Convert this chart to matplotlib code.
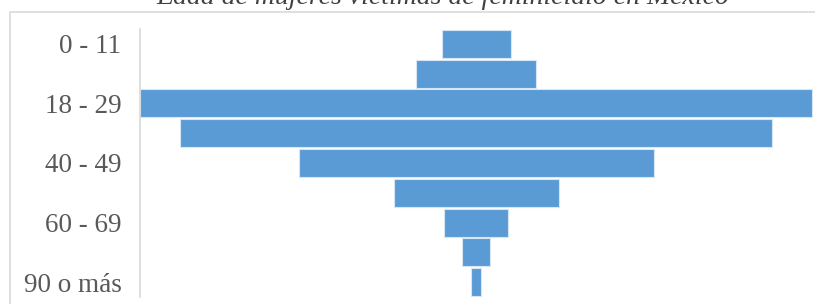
import matplotlib
matplotlib.use("Agg")
import matplotlib.pyplot as plt
from matplotlib.patches import Rectangle

categories = ["0 - 11", "12 - 17", "18 - 29", "30 - 39", "40 - 49",
              "50 - 59", "60 - 69", "70 - 89", "90 o más"]
values = [69, 120, 672, 592, 355, 165, 64, 28, 10]
shown_ticks = ["0 - 11", "18 - 29", "40 - 49", "60 - 69", "90 o más"]
title = "Edad de mujeres víctimas de feminicidio en México"

W, H = 815, 304
fig = plt.figure(figsize=(W / 100, H / 100), dpi=100)
fig.patch.set_facecolor("white")

# chart-area border (clipped at the right and bottom)
fig.patches.append(Rectangle((10 / W, -0.2), 1.2, 1.2 - 12 / H,
                             transform=fig.transFigure, fill=False,
                             edgecolor="#D9D9D9", linewidth=1.2))

fig.text(443 / W, 1 - 4 / H, title, ha="center", va="baseline",
         family="Liberation Serif", style="italic", fontsize=20,
         color="#404040")

ax = fig.add_axes([139.5 / W, 1 - 297 / H, (812.5 - 139.5) / W, (297 - 29) / H])
n = len(categories)
ypos = list(range(n))
lefts = [-v / 2 for v in values]
ax.barh(ypos, values, left=lefts, height=0.94, color="#5B9BD5",
        edgecolor="#D6E6F5", linewidth=0.8)

m = max(values)
ax.set_xlim(-m / 2 - 0.5, m / 2 + 0.5)
ax.set_ylim(n - 0.5, -0.5)
ax.set_xticks([])
tick_pos = [categories.index(c) for c in shown_ticks]
ax.set_yticks(tick_pos)
ax.set_yticklabels(shown_ticks, family="Liberation Serif", fontsize=19.5,
                   color="#595959")
ax.tick_params(axis="y", length=0, pad=13)
for s in ["top", "right", "bottom"]:
    ax.spines[s].set_visible(False)
ax.spines["left"].set_color("#D9D9D9")
ax.spines["left"].set_linewidth(1.2)

fig.savefig("out.png", dpi=100)
